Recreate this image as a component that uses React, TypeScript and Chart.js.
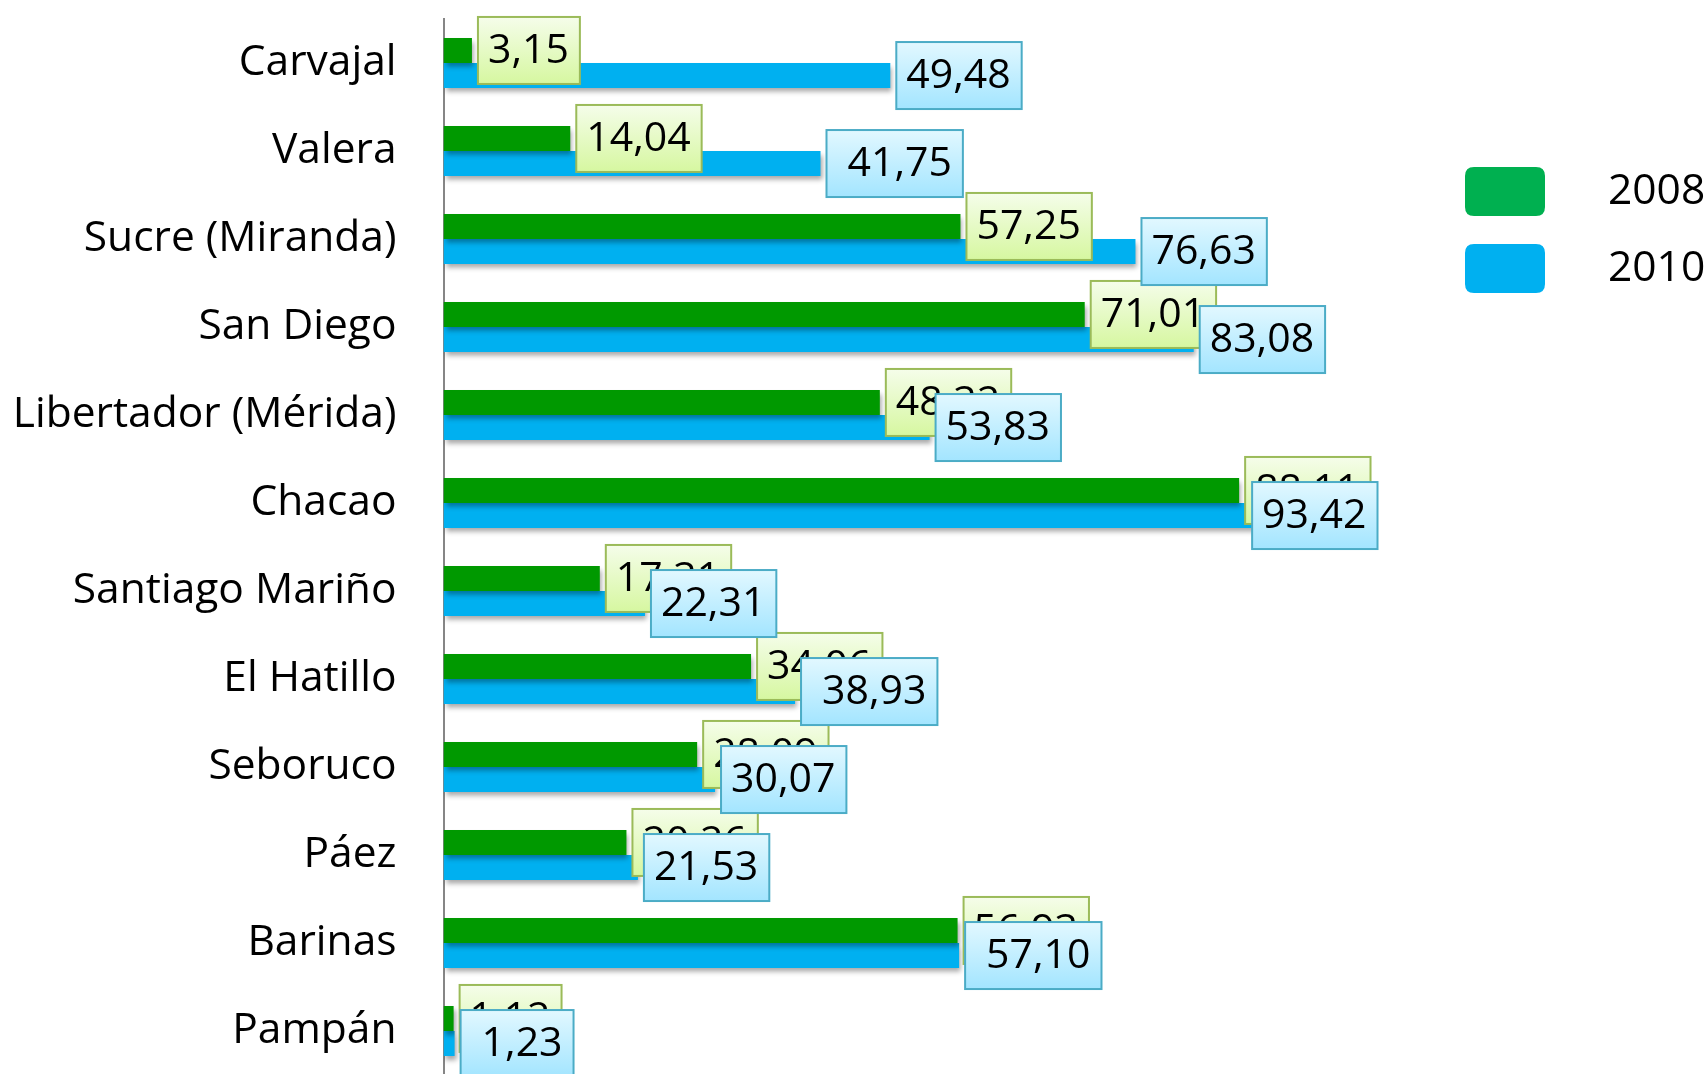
import React, { useEffect, useRef } from "react";
import { Chart, registerables } from "chart.js";

Chart.register(...registerables);

const categories = [
  "Carvajal",
  "Valera",
  "Sucre (Miranda)",
  "San Diego",
  "Libertador (Mérida)",
  "Chacao",
  "Santiago Mariño",
  "El Hatillo",
  "Seboruco",
  "Páez",
  "Barinas",
  "Pampán",
];
const values2008 = [3.15, 14.04, 57.25, 71.01, 48.32, 88.11, 17.31, 34.06, 28.09, 20.26, 56.93, 1.12];
const values2010 = [49.48, 41.75, 76.63, 83.08, 53.83, 93.42, 22.31, 38.93, 30.07, 21.53, 57.1, 1.23];
const seriesNames = ["2008", "2010"];
// labels of the 2010 series that carry a leading space in the original
const spacedLabels2010 = [false, true, false, false, false, false, false, true, false, false, true, true];

const FONT = "'Open Sans', 'Noto Sans', sans-serif";
const LABEL_SIZE = 41;
const CAT_SIZE = 42.5;

const BAR_COLORS = ["#009900", "#00B0F0"];
const LEGEND_COLORS = ["#00B050", "#00B0F0"];
const BOX_STYLES = [
  { top: "#F5FDEA", bottom: "#D6F7A0", border: "#9BBB59" },
  { top: "#E2F8FF", bottom: "#A3E5FF", border: "#4BACC6" },
];

function roundRectPath(ctx: CanvasRenderingContext2D, x: number, y: number, w: number, h: number, r: number) {
  ctx.beginPath();
  ctx.moveTo(x + r, y);
  ctx.lineTo(x + w - r, y);
  ctx.quadraticCurveTo(x + w, y, x + w, y + r);
  ctx.lineTo(x + w, y + h - r);
  ctx.quadraticCurveTo(x + w, y + h, x + w - r, y + h);
  ctx.lineTo(x + r, y + h);
  ctx.quadraticCurveTo(x, y + h, x, y + h - r);
  ctx.lineTo(x, y + r);
  ctx.quadraticCurveTo(x, y, x + r, y);
  ctx.closePath();
}

export default function App() {
  const ref = useRef<HTMLCanvasElement>(null);

  useEffect(() => {
    document.body.style.margin = "0";
    const canvas = ref.current;
    if (!canvas) return;

    const shadowPlugin = {
      id: "barShadow",
      beforeDatasetsDraw(chart: any) {
        const c = chart.ctx;
        c.save();
        c.shadowColor = "rgba(0,0,0,0.35)";
        c.shadowBlur = 5;
        c.shadowOffsetX = 2;
        c.shadowOffsetY = 4;
      },
      afterDatasetsDraw(chart: any) {
        chart.ctx.restore();
      },
    };

    const labelPlugin = {
      id: "boxLabels",
      afterDraw(chart: any) {
        const ctx: CanvasRenderingContext2D = chart.ctx;
        const limit = chart.chartArea.right + 31;
        ctx.save();
        ctx.font = `${LABEL_SIZE}px ${FONT}`;
        ctx.textBaseline = "middle";
        ctx.textAlign = "left";
        [0, 1].forEach((di) => {
          const meta = chart.getDatasetMeta(di);
          const st = BOX_STYLES[di];
          meta.data.forEach((bar: any, i: number) => {
            const val = chart.data.datasets[di].data[i] as number;
            const text = val.toFixed(2).replace(".", ",");
            const extra = di === 1 && spacedLabels2010[i] ? 11 : 0;
            const tw = ctx.measureText(text).width;
            const w = tw + 21 + extra;
            const h = 67;
            let x = bar.x + 6;
            if (x + w > limit) x = limit - w;
            const y = bar.y - h / 2;
            const g = ctx.createLinearGradient(0, y, 0, y + h);
            g.addColorStop(0, st.top);
            g.addColorStop(1, st.bottom);
            ctx.fillStyle = g;
            ctx.fillRect(x, y, w, h);
            ctx.strokeStyle = st.border;
            ctx.lineWidth = 2;
            ctx.strokeRect(x, y, w, h);
            ctx.fillStyle = "#000000";
            ctx.fillText(text, x + 10 + extra, bar.y + 1);
          });
        });
        ctx.restore();
      },
    };

    const legendPlugin = {
      id: "sideLegend",
      afterDraw(chart: any) {
        const ctx: CanvasRenderingContext2D = chart.ctx;
        const x0 = chart.chartArea.right + 118.5;
        const tops = [167, 244];
        ctx.save();
        ctx.font = `${CAT_SIZE}px ${FONT}`;
        ctx.textBaseline = "middle";
        ctx.textAlign = "left";
        chart.data.datasets.forEach((ds: any, i: number) => {
          roundRectPath(ctx, x0, tops[i], 80, 49, 9);
          ctx.fillStyle = LEGEND_COLORS[i];
          ctx.fill();
          ctx.fillStyle = "#000000";
          ctx.fillText(ds.label, x0 + 143, tops[i] + 25);
        });
        ctx.restore();
      },
    };

    const chart = new Chart(canvas, {
      type: "bar",
      data: {
        labels: categories,
        datasets: [
          {
            label: seriesNames[0],
            data: values2008,
            backgroundColor: BAR_COLORS[0],
            borderWidth: 0,
            categoryPercentage: 0.57,
            barPercentage: 1,
          },
          {
            label: seriesNames[1],
            data: values2010,
            backgroundColor: BAR_COLORS[1],
            borderWidth: 0,
            categoryPercentage: 0.57,
            barPercentage: 1,
          },
        ],
      },
      options: {
        indexAxis: "y",
        animation: false,
        responsive: false,
        maintainAspectRatio: false,
        layout: { padding: { top: 19, right: 361.5, bottom: 15, left: 0 } },
        plugins: {
          legend: { display: false },
          tooltip: { enabled: false },
        },
        scales: {
          x: { min: 0, max: 100, display: false },
          y: {
            grid: { display: false, drawTicks: false },
            border: { display: true, color: "#868686", width: 2 },
            ticks: {
              color: "#000000",
              font: { family: FONT, size: CAT_SIZE },
              padding: 47,
            },
            afterFit(scale: any) {
              scale.width = 443.5;
              scale.paddingTop = 0;
              scale.paddingBottom = 0;
            },
          },
        },
      },
      plugins: [shadowPlugin, labelPlugin, legendPlugin],
    } as any);

    return () => chart.destroy();
  }, []);

  return (
    <div style={{ width: 1708, height: 1074, overflow: "hidden", background: "#fff" }}>
      <canvas ref={ref} width={1708} height={1090} style={{ display: "block" }} />
    </div>
  );
}
